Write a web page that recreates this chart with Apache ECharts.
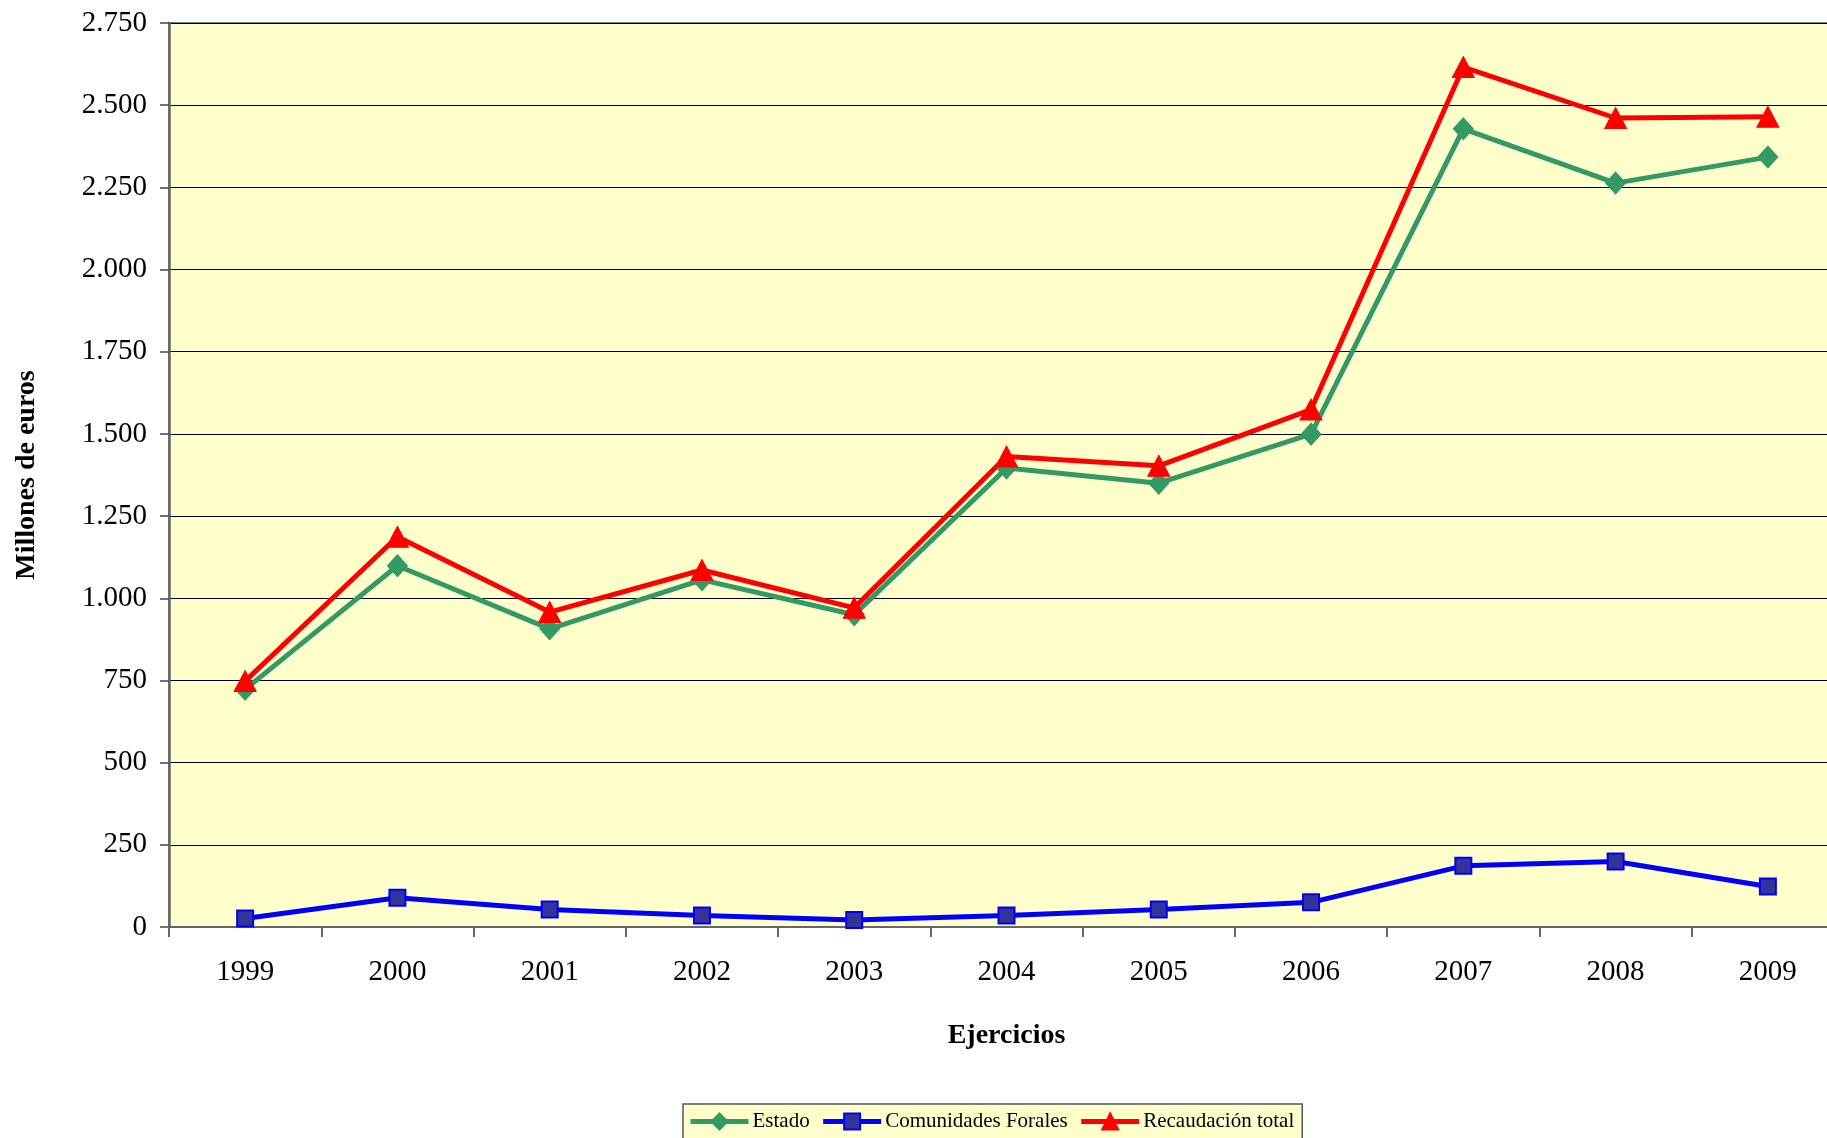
<!DOCTYPE html>
<html>
<head>
<meta charset="utf-8">
<title>Recaudación</title>
<script src="https://cdn.jsdelivr.net/npm/echarts@6/dist/echarts.min.js"></script>
<style>
  html, body { margin: 0; padding: 0; background: #ffffff; }
  #lineChart { width: 1827px; height: 1138px; }
</style>
</head>
<body>
<div id="lineChart"></div>
<script>
// datos (millones de euros)
const years = ['1999', '2000', '2001', '2002', '2003', '2004', '2005', '2006', '2007', '2008', '2009']
const estado = [723, 1099, 907, 1056, 950, 1396, 1350, 1499, 2428, 2263, 2342]
const comunidadesForales = [26, 89, 53, 35, 21, 35, 53, 75, 186, 199, 123]
const recaudacionTotal = [748, 1187, 958, 1086, 971, 1431, 1403, 1574, 2616, 2461, 2465]

const serif = 'Liberation Serif, Times New Roman, serif'

function fmtMiles(v) {
  return String(v).replace(/\B(?=(\d{3})+(?!\d))/g, '.')
}

let myChart = echarts.init(document.getElementById('lineChart'))
let options = {
  animation: false,
  backgroundColor: '#ffffff',
  grid: {
    left: 169,
    top: 23,
    right: -17,
    bottom: 211,
    show: true,
    backgroundColor: '#FFFFCC',
    borderColor: '#808080',
    borderWidth: 2,
    containLabel: false,
    outerBoundsMode: 'none'
  },
  legend: {
    left: 683,
    top: 1104,
    padding: [7, 8, 8, 5],
    itemWidth: 58,
    itemHeight: 20,
    itemGap: 11,
    backgroundColor: '#FFFFCC',
    borderColor: '#555555',
    borderWidth: 1.5,
    selectedMode: false,
    lineStyle: { width: 5 },
    textStyle: {
      fontFamily: serif,
      fontSize: 21,
      color: '#000000',
      padding: [0, 0, 0, -1]
    },
    data: ['Estado', 'Comunidades Forales', 'Recaudación total']
  },
  xAxis: {
    type: 'category',
    data: years,
    boundaryGap: true,
    name: 'Ejercicios',
    nameLocation: 'middle',
    nameGap: 95,
    nameTextStyle: {
      fontFamily: serif,
      fontSize: 28,
      fontWeight: 'bold',
      color: '#000000'
    },
    axisLine: { show: true, lineStyle: { color: '#666666', width: 2 } },
    axisTick: { show: true, length: 10, inside: false, lineStyle: { color: '#666666', width: 2 } },
    axisLabel: {
      margin: 31,
      fontFamily: serif,
      fontSize: 29,
      color: '#000000'
    },
    splitLine: { show: false }
  },
  yAxis: {
    type: 'value',
    min: 0,
    max: 2750,
    interval: 250,
    name: 'Millones de euros',
    nameLocation: 'middle',
    nameRotate: 90,
    nameGap: 128,
    nameTextStyle: {
      fontFamily: serif,
      fontSize: 28,
      fontWeight: 'bold',
      color: '#000000'
    },
    axisLine: { show: true, lineStyle: { color: '#666666', width: 2.5 } },
    axisTick: { show: true, length: 9, inside: false, lineStyle: { color: '#444444', width: 1.5 } },
    axisLabel: {
      margin: 22,
      fontFamily: serif,
      fontSize: 29,
      color: '#000000',
      formatter: fmtMiles
    },
    splitLine: { show: true, lineStyle: { color: '#000000', width: 1.2 } }
  },
  series: [
    {
      name: 'Estado',
      type: 'line',
      data: estado,
      symbol: 'diamond',
      symbolSize: [20, 22],
      lineStyle: { color: '#339966', width: 5 },
      itemStyle: { color: '#339966', borderColor: '#339966', borderWidth: 1 },
      emphasis: { disabled: true }
    },
    {
      name: 'Comunidades Forales',
      type: 'line',
      data: comunidadesForales,
      symbol: 'rect',
      symbolSize: 16,
      lineStyle: { color: '#0000FF', width: 5 },
      itemStyle: { color: '#333399', borderColor: '#0000FF', borderWidth: 2 },
      emphasis: { disabled: true }
    },
    {
      name: 'Recaudación total',
      type: 'line',
      data: recaudacionTotal,
      symbol: 'triangle',
      symbolSize: [22, 21],
      lineStyle: { color: '#FF0000', width: 5 },
      itemStyle: { color: '#FF0000', borderColor: '#FF0000', borderWidth: 1 },
      emphasis: { disabled: true }
    }
  ]
}
myChart.setOption(options)
</script>
</body>
</html>
